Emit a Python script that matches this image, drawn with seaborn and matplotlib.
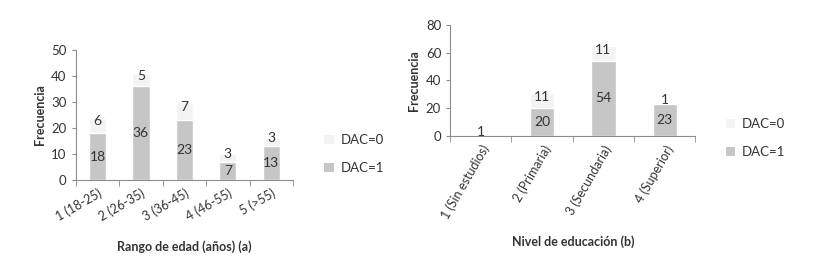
import numpy as np
import pandas as pd
import seaborn as sns
import matplotlib.pyplot as plt
from matplotlib.patches import Patch

# datos (a) rango de edad
edad = ['1 (18-25)', '2 (26-35)', '3 (36-45)', '4 (46-55)', '5 (>55)']
edad_dac1 = [18, 36, 23, 7, 13]
edad_dac0 = [6, 5, 7, 3, 3]

# datos (b) nivel de educación
educ = ['1 (Sin estudios)', '2 (Primaria)', '3 (Secundaria)', '4 (Superior)']
educ_dac1 = [0, 20, 54, 23]
educ_dac0 = [1, 11, 11, 1]

gris = '#c6c6c6'
claro = '#f3f3f3'
txt = '#333333'
eje = '#8c8c8c'

sns.set_style('white')
plt.rcParams['font.family'] = ['Lato', 'DejaVu Sans']

fig = plt.figure(figsize=(8.23, 2.57), dpi=100)
ax1 = fig.add_axes([0.092, 0.300, 0.264, 0.505])
ax2 = fig.add_axes([0.547, 0.471, 0.298, 0.432])


def dibujar(ax, cats, d1, d0, ymax, paso, rot, xlabel, lpad):
    df = pd.DataFrame({'cat': cats, 'd1': d1, 'd0': d0})
    df['total'] = df['d1'] + df['d0']
    sns.barplot(data=df, x='cat', y='total', color=claro, width=0.4,
                saturation=1, ax=ax)
    sns.barplot(data=df, x='cat', y='d1', color=gris, width=0.4,
                saturation=1, ax=ax)
    for i, (a, b) in enumerate(zip(d1, d0)):
        if a > 0:
            ax.text(i, a / 2, str(a), ha='center', va='center', fontsize=10, color=txt)
        ax.text(i, a + b / 2 + ymax * 0.03, str(b), ha='center',
                va='center', fontsize=10, color=txt)
    ax.set_xlim(-0.5, len(cats) - 0.5)
    ax.set_ylim(0, ymax)
    ax.set_yticks(np.arange(0, ymax + 1, paso))
    ax.set_ylabel('Frecuencia', fontsize=9, fontweight='bold', color=txt, labelpad=4)
    ax.set_xlabel(xlabel, fontsize=9, fontweight='bold', color=txt, labelpad=lpad)
    ax.set_xticks(range(len(cats)))
    ax.set_xticklabels(cats, rotation=rot, ha='right', rotation_mode='anchor',
                       fontsize=9, color=txt)
    ax.set_xticks(np.arange(-0.5, len(cats)), minor=True)
    ax.tick_params(axis='x', which='major', length=0, pad=5)
    ax.tick_params(axis='x', which='minor', length=4, color=eje, direction='out', bottom=True)
    ax.tick_params(axis='y', length=3, color=eje, direction='out', left=True,
                   labelsize=9.5, labelcolor=txt)
    for s in ['top', 'right']:
        ax.spines[s].set_visible(False)
    for s in ['left', 'bottom']:
        ax.spines[s].set_color(eje)
        ax.spines[s].set_linewidth(0.8)


dibujar(ax1, edad, edad_dac1, edad_dac0, 50, 10, 30, 'Rango de edad (años) (a)', 12)
dibujar(ax2, educ, educ_dac1, educ_dac0, 80, 20, 60, 'Nivel de educación (b)', 10)

handles = [Patch(facecolor=claro, edgecolor='none', label='DAC=0'),
           Patch(facecolor=gris, edgecolor='none', label='DAC=1')]
for ax, pos in [(ax1, (1.09, 0.2)), (ax2, (1.075, -0.02))]:
    ax.legend(handles=handles, loc='center left', bbox_to_anchor=pos, frameon=False,
              fontsize=9.5, handlelength=0.7, handleheight=0.7, labelspacing=1.2,
              handletextpad=0.5, labelcolor=txt)

fig.savefig('out.png', dpi=100)
